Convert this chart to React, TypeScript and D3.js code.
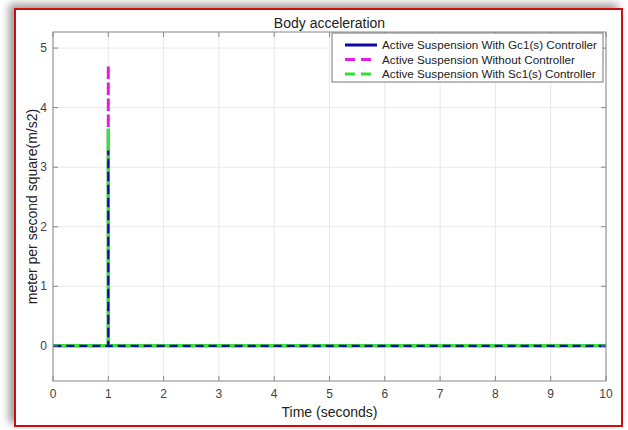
import React from 'react';
import * as d3 from 'd3';

// chart data
const timePoints = [0, 1, 1, 1, 10];
const gc1Values = [0, 0, 3.28, 0, 0];
const noCtrlValues = [0, 0, 4.72, 0, 0];
const sc1Values = [0, 0, 3.65, 0, 0];
const xTicks = [0, 1, 2, 3, 4, 5, 6, 7, 8, 9, 10];
const yTicks = [0, 1, 2, 3, 4, 5];
const legendLabels = [
  'Active Suspension With Gc1(s) Controller',
  'Active Suspension Without Controller',
  'Active Suspension With Sc1(s) Controller',
];

const W = 628;
const H = 430;
const plot = { left: 53, right: 606, top: 32, bottom: 381 };
const font = '"Liberation Sans", Arial, sans-serif';

export default function App() {
  const x = d3.scaleLinear().domain([0, 10]).range([plot.left, plot.right]);
  const y = d3.scaleLinear().domain([-0.59, 5.27]).range([plot.bottom, plot.top]);

  const line = (vals: number[]) =>
    d3
      .line<number>()
      .x((_, i) => x(timePoints[i]))
      .y((d) => y(d))(vals) || '';

  // shift the dash pattern so the peak sits in the middle of a dash,
  // then the way down lies exactly over the way up
  const dashOffset = (vals: number[], dash: number, gap: number) => {
    const peak = vals.indexOf(d3.max(vals) as number);
    let len = 0;
    for (let i = 1; i <= peak; i++) {
      len += Math.hypot(x(timePoints[i]) - x(timePoints[i - 1]), y(vals[i]) - y(vals[i - 1]));
    }
    const p = dash + gap;
    return ((len - dash / 2) % p + p) % p;
  };

  const legendX = 332;
  const legendY = 33;
  const rows = [
    { color: '#0a0aa8', dash: undefined as string | undefined },
    { color: '#e020e0', dash: '10,6' },
    { color: '#33e033', dash: '10,6' },
  ];

  return (
    <svg
      width={W}
      height={H}
      style={{ position: 'absolute', left: 0, top: 0, fontFamily: font }}
    >
      <defs>
        <filter id="sh" x="-10%" y="-10%" width="120%" height="120%">
          <feGaussianBlur in="SourceAlpha" stdDeviation="4" />
          <feOffset dx="-5" dy="-4" result="b" />
          <feComponentTransfer>
            <feFuncA type="linear" slope="0.4" />
          </feComponentTransfer>
          <feMerge>
            <feMergeNode />
            <feMergeNode in="SourceGraphic" />
          </feMerge>
        </filter>
        <clipPath id="clip">
          <rect x={plot.left} y={plot.top} width={plot.right - plot.left} height={plot.bottom - plot.top} />
        </clipPath>
      </defs>
      <rect width={W} height={H} fill="#fff" />
      <rect x={15} y={9} width={607} height={417} fill="#fff" stroke="#d01010" strokeWidth={2} filter="url(#sh)" />

      {/* grid */}
      {xTicks.map((t) => (
        <line key={'gx' + t} x1={x(t)} x2={x(t)} y1={plot.top} y2={plot.bottom} stroke="#e8e8e8" />
      ))}
      {yTicks.map((t) => (
        <line key={'gy' + t} x1={plot.left} x2={plot.right} y1={y(t)} y2={y(t)} stroke="#e8e8e8" />
      ))}

      {/* series */}
      <g clipPath="url(#clip)" fill="none">
        <path
          d={line(noCtrlValues)}
          stroke="#e020e0"
          strokeWidth={3}
          strokeDasharray="10,6"
          strokeDashoffset={dashOffset(noCtrlValues, 10, 6)}
        />
        <path d={line(sc1Values)} stroke="#3ee03e" strokeWidth={3.5} />
        <path
          d={line(gc1Values)}
          stroke="#0a0aa8"
          strokeWidth={2.2}
          strokeDasharray="8,5"
          strokeDashoffset={dashOffset(gc1Values, 8, 5)}
        />
      </g>

      {/* axes box and ticks */}
      <rect
        x={plot.left}
        y={plot.top}
        width={plot.right - plot.left}
        height={plot.bottom - plot.top}
        fill="none"
        stroke="#888"
      />
      {xTicks.map((t) => (
        <g key={'tx' + t}>
          <line x1={x(t)} x2={x(t)} y1={plot.bottom} y2={plot.bottom - 5} stroke="#888" />
          <line x1={x(t)} x2={x(t)} y1={plot.top} y2={plot.top + 5} stroke="#888" />
          <text x={x(t)} y={398} textAnchor="middle" fontSize={12} fill="#444">
            {t}
          </text>
        </g>
      ))}
      {yTicks.map((t) => (
        <g key={'ty' + t}>
          <line x1={plot.left} x2={plot.left + 5} y1={y(t)} y2={y(t)} stroke="#888" />
          <line x1={plot.right} x2={plot.right - 5} y1={y(t)} y2={y(t)} stroke="#888" />
          <text x={47} y={y(t) + 4} textAnchor="end" fontSize={12} fill="#444">
            {t}
          </text>
        </g>
      ))}

      {/* labels */}
      <text x={(plot.left + plot.right) / 2} y={28} textAnchor="middle" fontSize={14} fill="#222">
        Body acceleration
      </text>
      <text x={(plot.left + plot.right) / 2} y={417} textAnchor="middle" fontSize={14} fill="#222">
        Time (seconds)
      </text>
      <text
        transform={`translate(37,${(plot.top + plot.bottom) / 2}) rotate(-90)`}
        textAnchor="middle"
        fontSize={14}
        fill="#222"
      >
        meter per second square(m/s2)
      </text>

      {/* legend */}
      <rect x={legendX} y={legendY} width={271} height={49} fill="#fff" stroke="#777" />
      {legendLabels.map((lab, i) => (
        <g key={lab}>
          <line
            x1={legendX + 13}
            x2={legendX + 45}
            y1={legendY + 12 + i * 14.5}
            y2={legendY + 12 + i * 14.5}
            stroke={rows[i].color}
            strokeWidth={3}
            strokeDasharray={rows[i].dash}
          />
          <text x={legendX + 50} y={legendY + 16 + i * 14.5} fontSize={11.7} fill="#222">
            {lab}
          </text>
        </g>
      ))}
    </svg>
  );
}
